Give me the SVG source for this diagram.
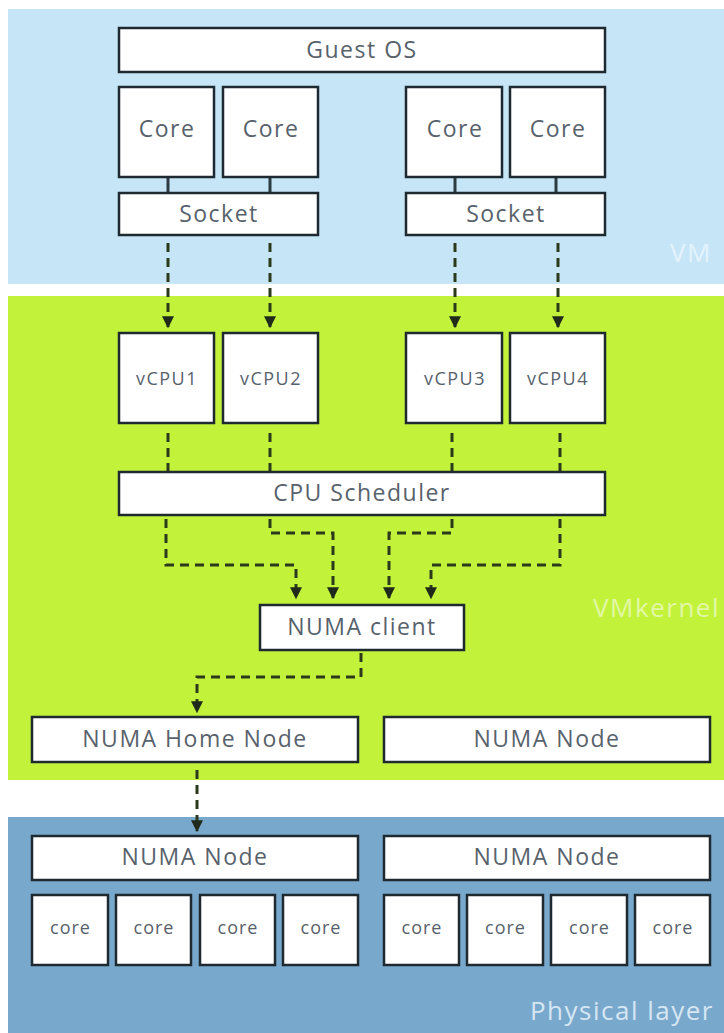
<svg xmlns="http://www.w3.org/2000/svg" width="724" height="1033" viewBox="0 0 724 1033">
  <defs>
    <style>
      .box { fill: #ffffff; stroke: #1f2a30; stroke-width: 2.5; }
      .lbl { font-family: "Open Sans", "Noto Sans", sans-serif; fill: #58626c; text-anchor: middle; dominant-baseline: central; }
      .big { font-size: 23px; letter-spacing: 1.5px; }
      .mid { font-size: 18px; letter-spacing: 1.5px; }
      .sm  { font-size: 18px; letter-spacing: 1px; }
      .layer { font-family: "Open Sans", "Noto Sans", sans-serif; font-size: 26px; letter-spacing: 1.5px; text-anchor: end; }
      .dash { fill: none; stroke: #2c3a1c; stroke-width: 3; stroke-dasharray: 9 6; }
      .tie { fill: none; stroke: #2c3a42; stroke-width: 3; }
    </style>
    <marker id="arrow" viewBox="0 0 10 10" refX="9" refY="5" markerWidth="4" markerHeight="4" orient="auto" markerUnits="strokeWidth">
      <path d="M0,0 L10,5 L0,10 z" fill="#1f2a1a"/>
    </marker>
  </defs>

  <rect width="724" height="1033" fill="#ffffff"/>

  <!-- layer bands -->
  <g id="layer-vm">
    <rect x="8" y="9" width="716" height="275" fill="#c6e6f8"/>
    <text class="layer" x="712" y="262" fill="#e4f3fc">VM</text>
  </g>
  <g id="layer-vmkernel">
    <rect x="8" y="296" width="716" height="484" fill="#c3f23b"/>
    <text class="layer" x="720" y="617" fill="#e2f8a6">VMkernel</text>
  </g>
  <g id="layer-physical">
    <rect x="8" y="817" width="716" height="216" fill="#79a8cd"/>
    <text class="layer" x="714" y="1020" fill="#d6e6f2">Physical layer</text>
  </g>

  <!-- connectors -->
  <g id="connectors">
    <!-- core to socket ties -->
    <path class="tie" d="M168,177 V193 M270,177 V193 M455,177 V193 M556,177 V193"/>
    <!-- socket to vCPU -->
    <path class="dash" d="M168,243 V327" marker-end="url(#arrow)"/>
    <path class="dash" d="M270,243 V327" marker-end="url(#arrow)"/>
    <path class="dash" d="M455,243 V327" marker-end="url(#arrow)"/>
    <path class="dash" d="M558,243 V327" marker-end="url(#arrow)"/>
    <!-- vCPU to scheduler -->
    <path class="dash" d="M168,433 V472 M270,433 V472 M452,433 V472 M560,433 V472"/>
    <!-- scheduler to NUMA client -->
    <path class="dash" d="M166,519 V565 H296 V598" marker-end="url(#arrow)"/>
    <path class="dash" d="M270,519 V533 H333 V598" marker-end="url(#arrow)"/>
    <path class="dash" d="M452,519 V533 H389 V598" marker-end="url(#arrow)"/>
    <path class="dash" d="M560,519 V565 H431 V598" marker-end="url(#arrow)"/>
    <!-- NUMA client to home node -->
    <path class="dash" d="M361,653 V677 H197 V712" marker-end="url(#arrow)"/>
    <!-- home node to physical node -->
    <path class="dash" d="M197,770 V831" marker-end="url(#arrow)"/>
  </g>

  <!-- VM layer -->
  <g id="guest-os">
    <rect class="box" x="119" y="28" width="486" height="44"/>
    <text class="lbl big" x="362" y="49">Guest OS</text>
  </g>
  <g id="core-1">
    <rect class="box" x="119" y="87" width="95" height="90"/>
    <text class="lbl big" x="167" y="128">Core</text>
  </g>
  <g id="core-2">
    <rect class="box" x="223" y="87" width="95" height="90"/>
    <text class="lbl big" x="271" y="128">Core</text>
  </g>
  <g id="core-3">
    <rect class="box" x="406" y="87" width="96" height="90"/>
    <text class="lbl big" x="455" y="128">Core</text>
  </g>
  <g id="core-4">
    <rect class="box" x="510" y="87" width="95" height="90"/>
    <text class="lbl big" x="558" y="128">Core</text>
  </g>
  <g id="socket-1">
    <rect class="box" x="119" y="193" width="199" height="42"/>
    <text class="lbl big" x="219" y="213">Socket</text>
  </g>
  <g id="socket-2">
    <rect class="box" x="406" y="193" width="199" height="42"/>
    <text class="lbl big" x="506" y="213">Socket</text>
  </g>

  <!-- VMkernel layer -->
  <g id="vcpu-1">
    <rect class="box" x="119" y="333" width="95" height="90"/>
    <text class="lbl mid" x="167" y="378">vCPU1</text>
  </g>
  <g id="vcpu-2">
    <rect class="box" x="223" y="333" width="95" height="90"/>
    <text class="lbl mid" x="271" y="378">vCPU2</text>
  </g>
  <g id="vcpu-3">
    <rect class="box" x="406" y="333" width="96" height="90"/>
    <text class="lbl mid" x="455" y="378">vCPU3</text>
  </g>
  <g id="vcpu-4">
    <rect class="box" x="510" y="333" width="95" height="90"/>
    <text class="lbl mid" x="558" y="378">vCPU4</text>
  </g>
  <g id="cpu-scheduler">
    <rect class="box" x="119" y="472" width="486" height="43"/>
    <text class="lbl big" x="362" y="492">CPU Scheduler</text>
  </g>
  <g id="numa-client">
    <rect class="box" x="260" y="605" width="204" height="45"/>
    <text class="lbl big" x="362" y="626">NUMA client</text>
  </g>
  <g id="numa-home-node">
    <rect class="box" x="32" y="717" width="326" height="45"/>
    <text class="lbl big" x="195" y="738">NUMA Home Node</text>
  </g>
  <g id="numa-node-vmk">
    <rect class="box" x="384" y="717" width="326" height="45"/>
    <text class="lbl big" x="547" y="738">NUMA Node</text>
  </g>

  <!-- Physical layer -->
  <g id="numa-node-phys-1">
    <rect class="box" x="32" y="836" width="326" height="44"/>
    <text class="lbl big" x="195" y="856">NUMA Node</text>
  </g>
  <g id="numa-node-phys-2">
    <rect class="box" x="384" y="836" width="326" height="44"/>
    <text class="lbl big" x="547" y="856">NUMA Node</text>
  </g>
  <g id="pcore-1"><rect class="box" x="32" y="895" width="76" height="70"/><text class="lbl sm" x="70.5" y="927">core</text></g>
  <g id="pcore-2"><rect class="box" x="116" y="895" width="75" height="70"/><text class="lbl sm" x="154" y="927">core</text></g>
  <g id="pcore-3"><rect class="box" x="200" y="895" width="75" height="70"/><text class="lbl sm" x="238" y="927">core</text></g>
  <g id="pcore-4"><rect class="box" x="283" y="895" width="75" height="70"/><text class="lbl sm" x="321" y="927">core</text></g>
  <g id="pcore-5"><rect class="box" x="384" y="895" width="75" height="70"/><text class="lbl sm" x="422" y="927">core</text></g>
  <g id="pcore-6"><rect class="box" x="467" y="895" width="76" height="70"/><text class="lbl sm" x="505.5" y="927">core</text></g>
  <g id="pcore-7"><rect class="box" x="551" y="895" width="76" height="70"/><text class="lbl sm" x="589.5" y="927">core</text></g>
  <g id="pcore-8"><rect class="box" x="635" y="895" width="75" height="70"/><text class="lbl sm" x="673" y="927">core</text></g>
</svg>
